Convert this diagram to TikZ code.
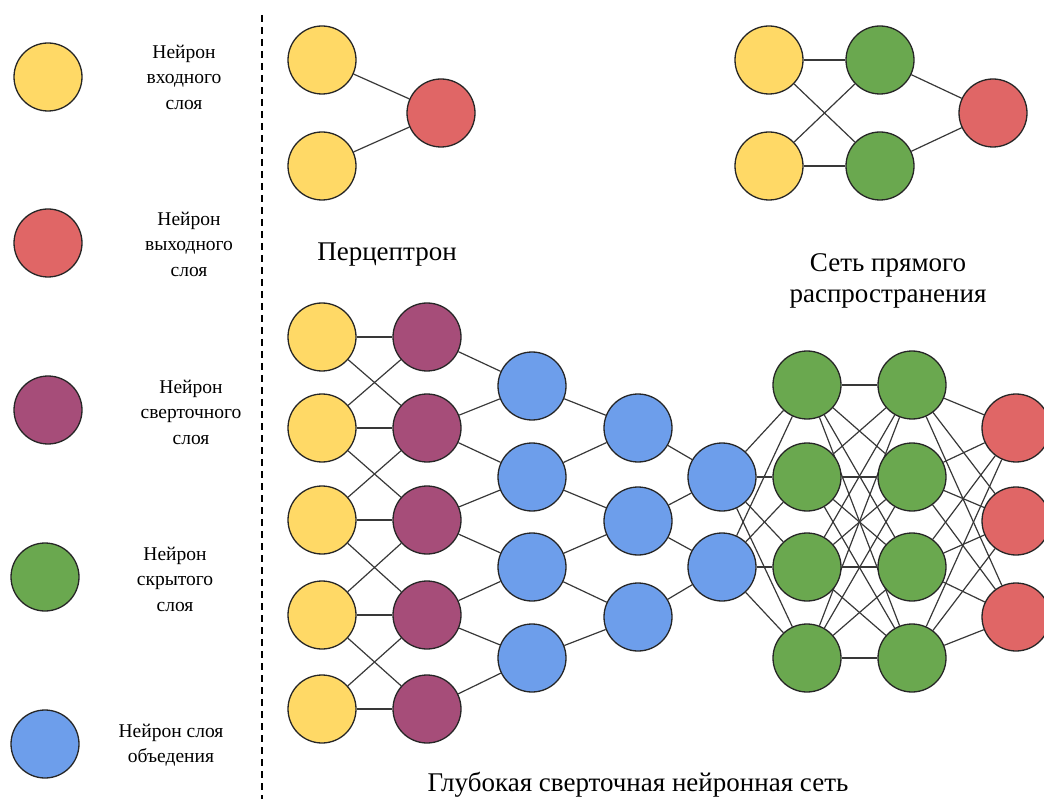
\documentclass[tikz,border=0pt]{standalone}
\usepackage{fontspec}
\setmainfont{Liberation Serif}
\usetikzlibrary{backgrounds}
\definecolor{cyel}{HTML}{FFD966}
\definecolor{cred}{HTML}{E06666}
\definecolor{cpur}{HTML}{A64D79}
\definecolor{cgrn}{HTML}{6AA84F}
\definecolor{cblu}{HTML}{6D9EEB}
\begin{document}
\begin{tikzpicture}[x=1pt,y=-1pt,
  neuron/.style={circle,draw=black!85,line width=1.3pt,minimum size=68pt,inner sep=0pt},
  inp/.style={neuron,fill=cyel},
  outp/.style={neuron,fill=cred},
  conv/.style={neuron,fill=cpur},
  hid/.style={neuron,fill=cgrn},
  pool/.style={neuron,fill=cblu},
  link/.style={draw=black!78,line width=1.2pt},
  legendtxt/.style={align=center,font=\fontsize{19.5}{25.5}\selectfont},
  titletxt/.style={align=center,font=\fontsize{27}{31}\selectfont}]
\useasboundingbox (0,0) rectangle (1044,799);

% legend
\node[inp]  (l1) at (48,77) {};
\node[outp] (l2) at (48,243) {};
\node[conv] (l3) at (48,410) {};
\node[hid]  (l4) at (45,577) {};
\node[pool] (l5) at (45,744) {};
\node[legendtxt] (t1) at (184,77) {Нейрон\\входного\\слоя};
\node[legendtxt] (t2) at (189,244) {Нейрон\\выходного\\слоя};
\node[legendtxt] (t3) at (191,412) {Нейрон\\сверточного\\слоя};
\node[legendtxt] (t4) at (175,579) {Нейрон\\скрытого\\слоя};
\node[legendtxt] (t5) at (171,745) {Нейрон слоя\\объедения};

% separator
\coordinate (dtop) at (262,15);
\coordinate (dbot) at (262,799);
\draw[line width=2.4pt,dash pattern=on 7pt off 5pt] (dtop) -- (dbot);

% perceptron
\node[inp]  (pa) at (322,60) {};
\node[inp]  (pb) at (322,166) {};
\node[outp] (po) at (441,113) {};
\node[titletxt] (ptitle) at (387,255) {Перцептрон};

% feed-forward network
\node[inp]  (fa) at (769,60) {};
\node[inp]  (fb) at (769,166) {};
\node[hid]  (fh1) at (880,60) {};
\node[hid]  (fh2) at (880,166) {};
\node[outp] (fo) at (993,113) {};
\node[titletxt] (ftitle) at (888,281) {Сеть прямого\\распространения};

% deep convolutional network
\foreach \y [count=\i] in {337,428,520,615,709} {
  \node[inp]  (y\i) at (322,\y) {};
  \node[conv] (p\i) at (427,\y) {};
}
\foreach \y [count=\i] in {386,477,567,658} {
  \node[pool] (b\i) at (532,\y) {};
}
\foreach \y [count=\i] in {428,521,617} {
  \node[pool] (c\i) at (638,\y) {};
  \node[outp] (r\i) at (1016,\y) {};
}
\foreach \y [count=\i] in {477,567} {
  \node[pool] (d\i) at (722,\y) {};
}
\foreach \y [count=\i] in {385,477,567,658} {
  \node[hid] (g\i) at (807,\y) {};
  \node[hid] (h\i) at (912,\y) {};
}
\node[titletxt] (ctitle) at (638,785) {Глубокая сверточная нейронная сеть};

\begin{pgfonlayer}{background}
  % perceptron links
  \draw[link] (pa) -- (po);
  \draw[link] (pb) -- (po);
  % feed-forward links
  \foreach \a in {fa,fb} \foreach \b in {fh1,fh2} \draw[link] (\a) -- (\b);
  \draw[link] (fh1) -- (fo);
  \draw[link] (fh2) -- (fo);
  % input -> convolution
  \foreach \i in {1,...,5} \draw[link] (y\i) -- (p\i);
  \foreach \i [evaluate=\i as \j using int(\i+1)] in {1,...,4} {
    \draw[link] (y\i) -- (p\j);
    \draw[link] (y\j) -- (p\i);
  }
  % convolution -> pooling
  \draw[link] (p1) -- (b1);
  \foreach \i [evaluate=\i as \k using int(\i-1)] in {2,3,4} {
    \draw[link] (p\i) -- (b\k);
    \draw[link] (p\i) -- (b\i);
  }
  \draw[link] (p5) -- (b4);
  % pooling -> pooling
  \draw[link] (b1) -- (c1);
  \draw[link] (b2) -- (c1);
  \draw[link] (b2) -- (c2);
  \draw[link] (b3) -- (c2);
  \draw[link] (b3) -- (c3);
  \draw[link] (b4) -- (c3);
  \draw[link] (c1) -- (d1);
  \draw[link] (c2) -- (d1);
  \draw[link] (c2) -- (d2);
  \draw[link] (c3) -- (d2);
  % dense part
  \foreach \a in {1,2} \foreach \b in {1,...,4} \draw[link] (d\a) -- (g\b);
  \foreach \a in {1,...,4} \foreach \b in {1,...,4} \draw[link] (g\a) -- (h\b);
  \foreach \a in {1,...,4} \foreach \b in {1,2,3} \draw[link] (h\a) -- (r\b);
\end{pgfonlayer}
\end{tikzpicture}
\end{document}
